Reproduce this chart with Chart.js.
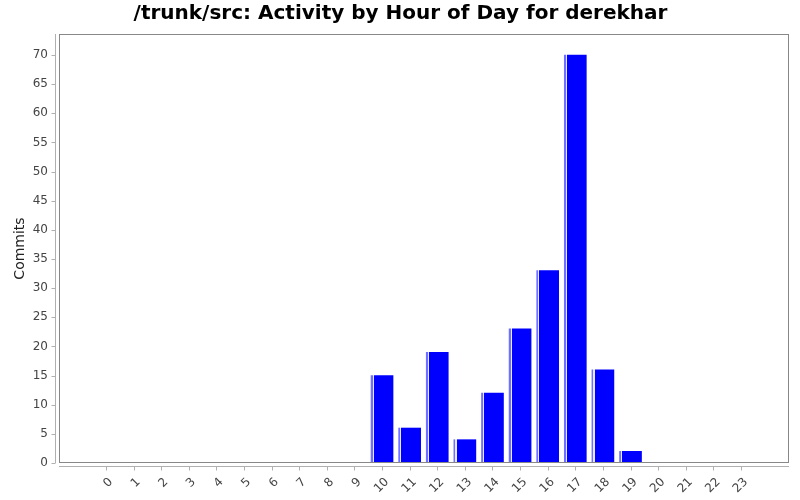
<!DOCTYPE html>
<html lang="en">
  <head>
    <title>Activity by Hour of Day</title>
    <meta charset="utf-8">
    <style>
      body { margin: 0; background: #fff; }
      #wrap { width: 800px; height: 500px; }
    </style>
  </head>
  <body>
    <div id="wrap"><canvas id="myChart"></canvas></div>

    <script src="https://cdn.jsdelivr.net/npm/chart.js@4.4.1/dist/chart.umd.min.js"></script>
    <script>
    // hours of day and commits per hour
    const hours = [0,1,2,3,4,5,6,7,8,9,10,11,12,13,14,15,16,17,18,19,20,21,22,23]
    const commits = [0,0,0,0,0,0,0,0,0,0,15,6,19,4,12,23,33,70,16,2,0,0,0,0]
    const yTicks = [0,5,10,15,20,25,30,35,40,45,50,55,60,65,70]

    const BAR_W = 22

    // bar fill with the light stripe on the left edge
    function barFill(ctx) {
      const chart = ctx.chart
      const xs = chart.scales.x
      if (!xs || ctx.dataIndex === undefined) return '#0000ff'
      const px = xs.getPixelForValue(hours[ctx.dataIndex])
      if (!Number.isFinite(px)) return '#0000ff'
      const l = px - BAR_W / 2
      const g = chart.ctx.createLinearGradient(l, 0, l + BAR_W, 0)
      g.addColorStop(0, '#7070ff')
      g.addColorStop(1.5 / BAR_W, '#7070ff')
      g.addColorStop(1.5 / BAR_W, '#e8e8ff')
      g.addColorStop(2.8 / BAR_W, '#e8e8ff')
      g.addColorStop(2.8 / BAR_W, '#0000ff')
      g.addColorStop(1, '#0000ff')
      return g
    }

    // plot frame plus axis lines drawn a few pixels off the plot
    const frame = {
      id: 'frame',
      afterDraw(chart) {
        const c = chart.ctx, a = chart.chartArea
        c.save()
        c.lineWidth = 1
        c.strokeStyle = '#888888'
        c.strokeRect(a.left + 0.5, a.top + 0.5, a.right - a.left - 1, a.bottom - a.top - 1)
        c.strokeStyle = '#b0b0b0'
        c.beginPath()
        const ax = Math.round(a.left - 4) + 0.5
        c.moveTo(ax, a.top); c.lineTo(ax, a.bottom)
        yTicks.forEach(v => {
          const y = Math.round(chart.scales.y.getPixelForValue(v)) + 0.5
          c.moveTo(ax - 4, y); c.lineTo(ax, y)
        })
        const ay = Math.round(a.bottom + 3) + 0.5
        c.moveTo(a.left, ay); c.lineTo(a.right, ay)
        hours.forEach(h => {
          const x = Math.round(chart.scales.x.getPixelForValue(h)) + 0.5
          c.moveTo(x, ay); c.lineTo(x, ay + 4)
        })
        c.stroke()
        c.restore()
      }
    }

    const ctx = document.getElementById('myChart').getContext('2d')
    window.myChart = new Chart(ctx, {
      type: 'bar',
      data: {
        datasets: [{
          label: 'Commits',
          data: hours.map((h, i) => ({ x: h, y: commits[i] || null })),
          backgroundColor: barFill,
          borderWidth: 0,
          barThickness: BAR_W
        }]
      },
      plugins: [frame],
      options: {
        responsive: true,
        maintainAspectRatio: false,
        animation: false,
        layout: { padding: { top: 0, right: 11, bottom: 0, left: 12 } },
        plugins: {
          legend: { display: false },
          tooltip: { enabled: false },
          title: {
            display: true,
            text: '/trunk/src: Activity by Hour of Day for derekhar',
            color: '#000',
            font: { family: 'DejaVu Sans', size: 20, weight: 'bold' },
            padding: { top: 2, bottom: 8 }
          }
        },
        scales: {
          x: {
            type: 'linear',
            min: -1.7,
            max: 24.74,
            offset: false,
            grid: { display: false, drawTicks: false },
            border: { display: false },
            afterFit: s => { s.height = 37 },
            ticks: {
              stepSize: 1,
              includeBounds: false,
              autoSkip: false,
              maxRotation: 45,
              minRotation: 45,
              padding: 12,
              labelOffset: 5,
              color: '#444',
              font: { family: 'DejaVu Sans', size: 12 },
              callback: v => (v >= 0 && v <= 23 && Number.isInteger(v)) ? String(v) : ''
            }
          },
          y: {
            min: 0,
            max: 73.6,
            grid: { display: false, drawTicks: false },
            border: { display: false },
            afterFit: s => { s.width = 47 },
            title: {
              display: true,
              text: 'Commits',
              color: '#222',
              font: { family: 'DejaVu Sans', size: 14 },
              padding: { top: 0, bottom: 4 }
            },
            ticks: {
              stepSize: 5,
              includeBounds: false,
              padding: 11,
              color: '#444',
              font: { family: 'DejaVu Sans', size: 12 },
              callback: v => yTicks.includes(v) ? String(v) : ''
            }
          }
        }
      }
    })
    </script>
  </body>
</html>
